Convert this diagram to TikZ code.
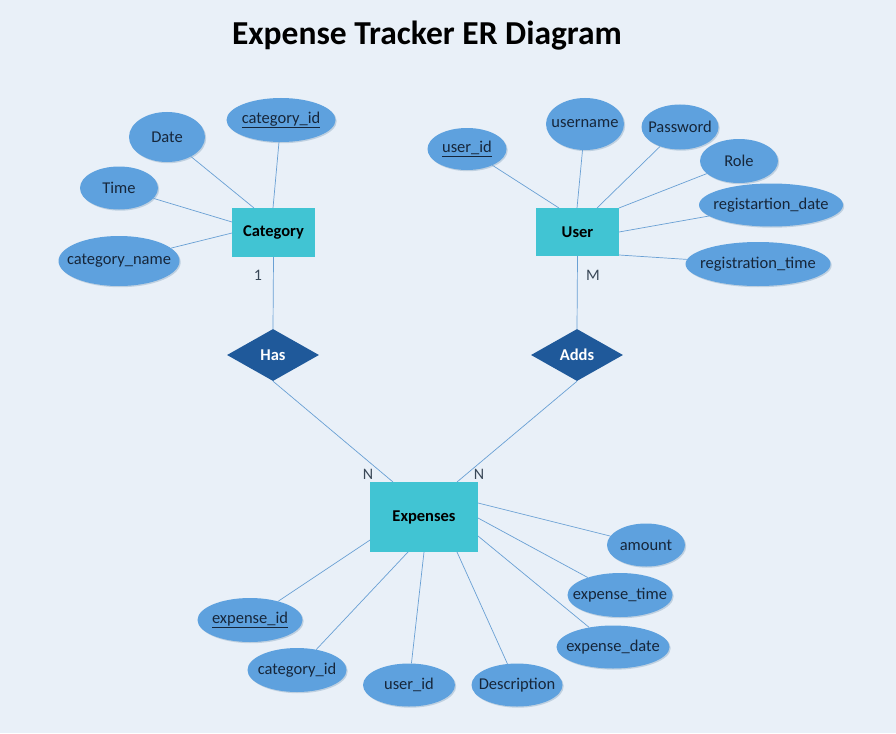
\documentclass[tikz,border=0pt]{standalone}
\usepackage{fontspec}
\setmainfont{Carlito}
\usetikzlibrary{shapes.geometric,shadows}
\definecolor{bg}{RGB}{233,240,248}
\definecolor{ent}{RGB}{65,196,211}
\definecolor{rel}{RGB}{31,89,154}
\definecolor{att}{RGB}{94,161,222}
\definecolor{ln}{RGB}{105,160,212}
\definecolor{txt}{RGB}{22,38,58}
\newcommand{\attrtext}[1]{\makebox[0pt]{#1}}
\begin{document}
\begin{tikzpicture}[x=1pt,y=-1pt,
  attr/.style={ellipse, fill=att, inner sep=0pt, text=txt,
    font=\fontsize{16.5}{18}\selectfont,
    drop shadow={shadow xshift=1.2pt, shadow yshift=-1.2pt, fill=att!70!black, opacity=0.25}},
  entity/.style={rectangle, fill=ent, inner sep=0pt, text=black,
    font=\fontsize{16.5}{18}\selectfont\bfseries},
  relation/.style={diamond, fill=rel, inner sep=0pt, text=white,
    minimum width=92pt, minimum height=52pt,
    font=\fontsize{16.5}{18}\selectfont\bfseries},
  conn/.style={draw=ln, line width=0.7pt},
  card/.style={font=\fontsize{16}{18}\selectfont, text=txt!85, inner sep=0pt}
]
\fill[bg] (0,0) rectangle (896,733);
\useasboundingbox (0,0) rectangle (896,733);

% title
\node[font=\fontsize{33.5}{38}\selectfont\bfseries, text=black] (title) at (427,36) {Expense Tracker ER Diagram};

% entities
\node[entity, minimum width=83pt, minimum height=49pt] (cat) at (273.5,232.5) {Category};
\node[entity, minimum width=83pt, minimum height=48pt] (user) at (577.5,232) {User};
\node[entity, minimum width=108pt, minimum height=70pt] (exp) at (424,517) {Expenses};

% relationships
\node[relation] (has) at (273,355) {Has};
\node[relation] (adds) at (577,355) {Adds};

% category attributes
\node[attr, minimum width=76pt, minimum height=50pt] (date) at (167,137) {\attrtext{Date}};
\node[attr, minimum width=109pt, minimum height=44pt] (catid) at (281,120) {\attrtext{\underline{category\_id}}};
\node[attr, minimum width=78pt, minimum height=43pt] (time) at (119,188) {\attrtext{Time}};
\node[attr, minimum width=121pt, minimum height=50pt] (catname) at (119,261) {\attrtext{category\_name}};

% user attributes
\node[attr, minimum width=79pt, minimum height=42pt] (uid) at (467,149) {\attrtext{\underline{user\_id}}};
\node[attr, minimum width=78pt, minimum height=52pt] (uname) at (585,124) {\attrtext{username}};
\node[attr, minimum width=77pt, minimum height=45pt] (pwd) at (680,127) {\attrtext{Password}};
\node[attr, minimum width=78pt, minimum height=44pt] (role) at (739,161) {\attrtext{Role}};
\node[attr, minimum width=144pt, minimum height=43pt] (rdate) at (771,205) {\attrtext{registartion\_date}};
\node[attr, minimum width=145pt, minimum height=44pt] (rtime) at (758,264) {\attrtext{registration\_time}};

% expense attributes
\node[attr, minimum width=78pt, minimum height=43pt] (amount) at (646,545) {\attrtext{amount}};
\node[attr, minimum width=105pt, minimum height=44pt] (etime) at (620,595) {\attrtext{expense\_time}};
\node[attr, minimum width=113pt, minimum height=43pt] (edate) at (613,647) {\attrtext{expense\_date}};
\node[attr, minimum width=91pt, minimum height=43pt] (desc) at (517,685) {\attrtext{Description}};
\node[attr, minimum width=92pt, minimum height=43pt] (euid) at (409,685) {\attrtext{user\_id}};
\node[attr, minimum width=99pt, minimum height=44pt] (ecid) at (297,670) {\attrtext{category\_id}};
\node[attr, minimum width=105pt, minimum height=44pt] (eid) at (250,620) {\attrtext{\underline{expense\_id}}};

% attachment points
\coordinate (c1) at (254,208);
\coordinate (c2) at (273,208);
\coordinate (c3) at (232,222);
\coordinate (c4) at (232,233);
\coordinate (u1) at (559,208);
\coordinate (u2) at (577,208);
\coordinate (u3) at (597,208);
\coordinate (u4) at (619,208);
\coordinate (u5) at (619,232);
\coordinate (u6) at (619,255);
\coordinate (e1) at (478,503);
\coordinate (e2) at (478,518);
\coordinate (e3) at (478,536);
\coordinate (e4) at (457,552);
\coordinate (e5) at (424,552);
\coordinate (e6) at (408,552);
\coordinate (e7) at (370,540);
\coordinate (en1) at (393,482);
\coordinate (en2) at (457,482);

% connectors
\draw[conn] (date) -- (c1);
\draw[conn] (catid) -- (c2);
\draw[conn] (time) -- (c3);
\draw[conn] (catname) -- (c4);
\draw[conn] (uid) -- (u1);
\draw[conn] (uname) -- (u2);
\draw[conn] (pwd) -- (u3);
\draw[conn] (role) -- (u4);
\draw[conn] (rdate) -- (u5);
\draw[conn] (rtime) -- (u6);
\draw[conn] (amount) -- (e1);
\draw[conn] (etime) -- (e2);
\draw[conn] (edate) -- (e3);
\draw[conn] (desc) -- (e4);
\draw[conn] (euid) -- (e5);
\draw[conn] (ecid) -- (e6);
\draw[conn] (eid) -- (e7);
\draw[conn] (cat.south) -- (has.north);
\draw[conn] (user.south) -- (adds.north);
\draw[conn] (has.south) -- (en1);
\draw[conn] (adds.south) -- (en2);

% cardinalities
\node[card] (k1) at (258,275) {1};
\node[card] (k2) at (593,275) {M};
\node[card] (k3) at (368,474) {N};
\node[card] (k4) at (479,474) {N};
\end{tikzpicture}
\end{document}
